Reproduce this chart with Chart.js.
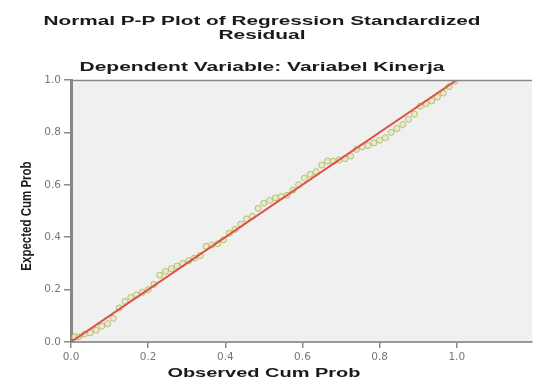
<!DOCTYPE html>
<html>
<head>
<meta charset="utf-8">
<script src="https://cdn.jsdelivr.net/npm/chart.js@4"></script>
<style>
html,body{margin:0;padding:0;background:#fff;}
#wrap{width:537px;height:382px;position:relative;}
</style>
</head>
<body>
<div id="wrap"><canvas id="c" width="537" height="382"></canvas></div>
<script>
// ---- data ----
const titleLines = ["Normal P-P Plot of Regression Standardized", "Residual"];
const subtitleText = "Dependent Variable: Variabel Kinerja";
const xAxisTitle = "Observed Cum Prob";
const yAxisTitle = "Expected Cum Prob";
const tickValues = [0.0, 0.2, 0.4, 0.6, 0.8, 1.0];
const observedCumProb = [0.01,0.02,0.035,0.05,0.065,0.08,0.095,0.11,0.125,0.14,0.155,0.17,0.185,0.2,0.215,0.23,0.245,0.26,0.275,0.29,0.305,0.32,0.335,0.35,0.365,0.38,0.395,0.41,0.425,0.44,0.455,0.47,0.485,0.5,0.515,0.53,0.545,0.56,0.575,0.59,0.605,0.62,0.635,0.65,0.665,0.68,0.695,0.71,0.725,0.74,0.755,0.77,0.785,0.8,0.815,0.83,0.845,0.86,0.875,0.89,0.905,0.92,0.935,0.95,0.965,0.98,0.995];
const expectedCumProb = [0.02,0.02,0.03,0.035,0.045,0.06,0.07,0.09,0.13,0.155,0.17,0.18,0.19,0.2,0.22,0.255,0.27,0.28,0.29,0.3,0.31,0.32,0.33,0.365,0.37,0.375,0.39,0.415,0.43,0.45,0.47,0.48,0.51,0.53,0.54,0.55,0.555,0.56,0.58,0.6,0.625,0.64,0.65,0.675,0.69,0.69,0.695,0.7,0.71,0.735,0.745,0.75,0.76,0.77,0.78,0.8,0.815,0.83,0.85,0.87,0.9,0.91,0.92,0.935,0.95,0.975,0.995];
const refLineX = [0, 1];
const refLineY = [0, 1];

const points = observedCumProb.map((x, i) => ({x: x, y: expectedCumProb[i]}));
const refLine = refLineX.map((x, i) => ({x: x, y: refLineY[i]}));

function drawStretched(ctx, text, cx, cy, targetW, font, color, rotate, thick) {
  ctx.save();
  ctx.font = font;
  ctx.fillStyle = color;
  ctx.textAlign = 'center';
  ctx.textBaseline = 'middle';
  ctx.translate(cx, cy);
  if (rotate) {
    ctx.rotate(-Math.PI / 2);
    ctx.scale(1, thick);
  } else {
    const w = ctx.measureText(text).width;
    ctx.scale(targetW / w, 1);
  }
  ctx.fillText(text, 0, 0);
  ctx.restore();
}

const decor = {
  id: 'decor',
  beforeDraw(chart) {
    const {ctx, chartArea: a} = chart;
    ctx.save();
    ctx.fillStyle = '#f0f0f0';
    ctx.fillRect(a.left, a.top, a.right - a.left, a.bottom - a.top);
    ctx.restore();
  },
  afterDraw(chart) {
    const {ctx, chartArea: a, scales} = chart;
    ctx.save();
    ctx.strokeStyle = '#8a8a8a';
    ctx.lineWidth = 1.5;
    ctx.beginPath();
    ctx.moveTo(a.left, a.top + 0.5);
    ctx.lineTo(a.right, a.top + 0.5);
    ctx.stroke();
    ctx.restore();
    const f = 'bold 12px "Liberation Sans", Arial, sans-serif';
    drawStretched(ctx, titleLines[0], 262, 22, 437, f, '#1a1a1a');
    drawStretched(ctx, titleLines[1], 262, 36, 87, f, '#1a1a1a');
    drawStretched(ctx, subtitleText, 262, 68, 365, f, '#1a1a1a');
    const cx = scales.x.getPixelForValue(0.5);
    drawStretched(ctx, xAxisTitle, cx, 374, 193, f, '#1a1a1a');
    drawStretched(ctx, yAxisTitle, 27, 216, 0, 'bold 11.5px "Liberation Sans", Arial, sans-serif', '#1a1a1a', true, 1.35);
  }
};

new Chart(document.getElementById('c'), {
  type: 'scatter',
  data: {
    datasets: [
      {
        type: 'line',
        data: refLine,
        borderColor: '#d9534a',
        borderWidth: 2,
        pointRadius: 0,
        fill: false,
        order: 1
      },
      {
        data: points,
        pointRadius: 3,
        pointBorderWidth: 1,
        borderColor: '#b4c06a',
        backgroundColor: 'rgba(232,228,196,0.7)',
        order: 2
      }
    ]
  },
  options: {
    responsive: false,
    animation: false,
    layout: {padding: {top: 80, left: 0, right: 0, bottom: 0}},
    plugins: {legend: {display: false}, tooltip: {enabled: false}, title: {display: false}},
    scales: {
      x: {
        type: 'linear',
        min: 0, max: 1.195,
        afterFit(s) { s.height = 40; },
        ticks: {
          stepSize: 0.2, includeBounds: false, autoSkip: false, maxRotation: 0,
          padding: 3,
          color: '#777',
          font: {family: '"DejaVu Sans", sans-serif', size: 10.5},
          callback: v => v.toFixed(1)
        },
        grid: {drawOnChartArea: false, tickLength: 6, color: '#8a8a8a', lineWidth: 1.5},
        border: {color: '#9a9a9a', width: 2}
      },
      y: {
        type: 'linear',
        min: 0, max: 1,
        afterFit(s) { s.width = 71; },
        ticks: {
          stepSize: 0.2,
          padding: 3,
          color: '#777',
          font: {family: '"DejaVu Sans", sans-serif', size: 10.5},
          callback: v => v.toFixed(1)
        },
        grid: {drawOnChartArea: false, tickLength: 7, color: '#8a8a8a', lineWidth: 1.5},
        border: {color: '#858585', width: 3}
      }
    }
  },
  plugins: [decor]
});
</script>
</body>
</html>
